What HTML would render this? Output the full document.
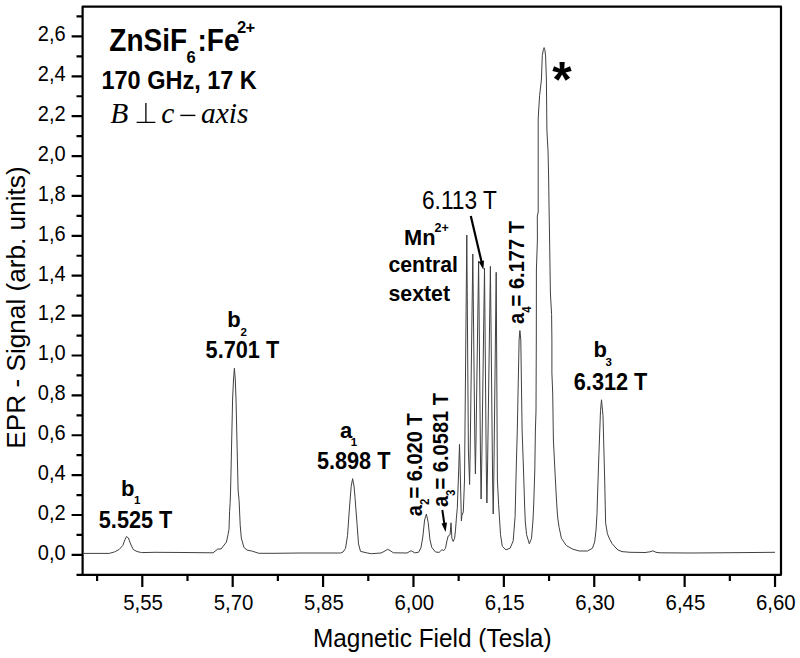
<!DOCTYPE html>
<html><head><meta charset="utf-8"><style>
html,body{margin:0;padding:0;background:#fff;}
svg{display:block;}
text{font-family:"Liberation Sans",sans-serif;fill:#000;}
.tk{font-size:20px;}
.ti{font-size:24.4px;}
.ty{font-size:26.2px;}
.b{font-weight:bold;}
.it{font-family:"Liberation Serif",serif;font-style:italic;}
.up{font-family:"Liberation Serif",serif;}
</style></head><body>
<svg width="800" height="658" viewBox="0 0 800 658">
<rect x="82.6" y="6.7" width="698.4" height="568.1" fill="none" stroke="#000" stroke-width="2.2" stroke-linejoin="round"/>
<path d="M71.6 554.90H82.6 M71.6 515.02H82.6 M71.6 475.13H82.6 M71.6 435.25H82.6 M71.6 395.36H82.6 M71.6 355.48H82.6 M71.6 315.60H82.6 M71.6 275.71H82.6 M71.6 235.83H82.6 M71.6 195.94H82.6 M71.6 156.06H82.6 M71.6 116.18H82.6 M71.6 76.29H82.6 M71.6 36.41H82.6 M76.5 574.84H82.6 M76.5 534.96H82.6 M76.5 495.07H82.6 M76.5 455.19H82.6 M76.5 415.31H82.6 M76.5 375.42H82.6 M76.5 335.54H82.6 M76.5 295.65H82.6 M76.5 255.77H82.6 M76.5 215.89H82.6 M76.5 176.00H82.6 M76.5 136.12H82.6 M76.5 96.23H82.6 M76.5 56.35H82.6 M76.5 16.47H82.6 M142.30 574.8V587 M232.69 574.8V587 M323.08 574.8V587 M413.47 574.8V587 M503.86 574.8V587 M594.25 574.8V587 M684.64 574.8V587 M775.03 574.8V587 M97.11 574.8V581 M187.50 574.8V581 M277.88 574.8V581 M368.27 574.8V581 M458.67 574.8V581 M549.06 574.8V581 M639.44 574.8V581 M729.84 574.8V581" stroke="#000" stroke-width="2.2" fill="none"/>
<text transform="translate(65.60,559.70) scale(1,1.07)" class="tk" text-anchor="end">0,0</text>
<text transform="translate(65.60,519.82) scale(1,1.07)" class="tk" text-anchor="end">0,2</text>
<text transform="translate(65.60,479.93) scale(1,1.07)" class="tk" text-anchor="end">0,4</text>
<text transform="translate(65.60,440.05) scale(1,1.07)" class="tk" text-anchor="end">0,6</text>
<text transform="translate(65.60,400.16) scale(1,1.07)" class="tk" text-anchor="end">0,8</text>
<text transform="translate(65.60,360.28) scale(1,1.07)" class="tk" text-anchor="end">1,0</text>
<text transform="translate(65.60,320.40) scale(1,1.07)" class="tk" text-anchor="end">1,2</text>
<text transform="translate(65.60,280.51) scale(1,1.07)" class="tk" text-anchor="end">1,4</text>
<text transform="translate(65.60,240.63) scale(1,1.07)" class="tk" text-anchor="end">1,6</text>
<text transform="translate(65.60,200.74) scale(1,1.07)" class="tk" text-anchor="end">1,8</text>
<text transform="translate(65.60,160.86) scale(1,1.07)" class="tk" text-anchor="end">2,0</text>
<text transform="translate(65.60,120.98) scale(1,1.07)" class="tk" text-anchor="end">2,2</text>
<text transform="translate(65.60,81.09) scale(1,1.07)" class="tk" text-anchor="end">2,4</text>
<text transform="translate(65.60,41.21) scale(1,1.07)" class="tk" text-anchor="end">2,6</text>
<text transform="translate(143.10,610.10) scale(1,1.05)" class="tk" text-anchor="middle" style="font-size:20.4px">5,55</text>
<text transform="translate(233.49,610.10) scale(1,1.05)" class="tk" text-anchor="middle" style="font-size:20.4px">5,70</text>
<text transform="translate(323.88,610.10) scale(1,1.05)" class="tk" text-anchor="middle" style="font-size:20.4px">5,85</text>
<text transform="translate(414.27,610.10) scale(1,1.05)" class="tk" text-anchor="middle" style="font-size:20.4px">6,00</text>
<text transform="translate(504.66,610.10) scale(1,1.05)" class="tk" text-anchor="middle" style="font-size:20.4px">6,15</text>
<text transform="translate(595.05,610.10) scale(1,1.05)" class="tk" text-anchor="middle" style="font-size:20.4px">6,30</text>
<text transform="translate(685.44,610.10) scale(1,1.05)" class="tk" text-anchor="middle" style="font-size:20.4px">6,45</text>
<text transform="translate(775.83,610.10) scale(1,1.05)" class="tk" text-anchor="middle" style="font-size:20.4px">6,60</text>
<text transform="translate(313.00,646.60) scale(1,1.05)" class="ti">Magnetic Field (Tesla)</text>
<text transform="translate(24.9,448.7) rotate(-90)" class="ty">EPR - Signal (arb. units)</text>
<path d="M83.5 553.4 L95.0 553.4 L109.3 553.4 L114.5 551.9 L119.0 549.6 L122.8 545.5 L125.0 539.5 L126.5 536.5 L128.4 538.0 L130.6 544.0 L133.3 549.6 L137.0 551.5 L141.5 552.6 L155.0 552.3 L185.0 552.5 L213.0 552.8 L217.9 549.0 L221.0 549.0 L226.4 542.1 L228.0 534.7 L229.0 529.4 L229.6 511.3 L230.1 503.8 L230.6 490.0 L232.6 399.0 L233.5 380.0 L234.4 368.2 L235.3 380.0 L236.0 399.0 L238.1 490.0 L239.1 500.6 L240.2 525.1 L241.3 537.9 L243.9 547.4 L247.1 550.1 L252.4 551.2 L258.8 553.3 L275.0 553.3 L300.0 553.0 L340.7 553.0 L343.0 552.0 L345.5 548.5 L347.5 535.7 L349.6 506.0 L351.2 486.4 L352.6 478.7 L354.0 486.0 L355.0 497.4 L357.1 524.7 L358.5 543.9 L360.5 551.4 L367.4 553.0 L371.5 553.7 L381.0 553.0 L384.0 551.5 L387.6 549.3 L390.0 550.5 L393.4 552.8 L407.0 553.0 L411.1 550.7 L414.6 552.8 L418.5 552.3 L420.9 548.0 L422.8 537.1 L424.6 520.0 L426.4 514.0 L428.2 522.5 L430.0 540.0 L431.8 547.4 L435.5 552.0 L439.1 552.4 L441.9 549.7 L443.7 550.6 L445.5 548.3 L446.9 541.0 L448.2 536.0 L450.1 534.6 L451.0 522.8 L451.9 538.3 L453.2 541.5 L454.6 538.3 L455.5 530.1 L456.4 518.2 L457.3 508.2 L458.7 470.0 L459.5 444.3 L460.2 470.0 L461.4 521.0 L461.9 515.5 L463.3 511.9 L464.5 480.0 L466.8 235.0 L468.4 450.0 L469.6 484.5 L470.2 450.0 L472.8 254.0 L474.8 440.0 L475.4 474.0 L476.0 440.0 L478.6 261.0 L480.5 460.0 L481.1 499.0 L481.8 460.0 L484.5 268.0 L486.3 470.0 L486.9 503.0 L487.5 470.0 L490.4 266.4 L492.6 480.0 L493.2 514.0 L493.8 480.0 L496.2 272.3 L497.4 480.0 L498.6 504.3 L500.5 534.7 L502.3 546.3 L506.0 549.9 L510.2 548.1 L513.2 540.8 L515.1 516.5 L516.2 470.0 L517.3 430.0 L519.1 340.0 L519.9 330.5 L520.8 340.0 L522.1 430.0 L523.5 470.0 L524.6 505.0 L525.3 522.0 L526.6 534.7 L529.3 543.8 L531.5 538.4 L533.0 520.0 L533.7 505.0 L534.8 470.0 L535.4 430.0 L536.0 411.0 L536.3 340.0 L536.4 270.0 L537.4 240.0 L537.3 216.0 L538.2 212.0 L538.2 140.0 L538.2 119.0 L538.7 110.0 L539.6 95.5 L541.4 80.0 L542.3 55.5 L543.4 49.5 L544.1 47.6 L544.8 49.5 L545.6 56.0 L546.4 80.0 L546.9 130.0 L547.4 140.0 L548.0 150.0 L548.6 176.0 L549.2 216.0 L549.6 240.0 L550.4 293.0 L551.6 314.5 L551.9 340.0 L551.9 373.0 L552.7 393.0 L553.4 440.0 L554.9 470.0 L556.2 495.0 L557.3 513.0 L558.0 520.0 L559.1 527.3 L561.4 538.3 L566.4 545.6 L572.8 549.2 L579.2 551.0 L587.4 551.0 L592.4 548.3 L594.7 541.9 L596.0 530.1 L597.0 513.7 L597.4 500.0 L598.9 454.5 L600.5 410.6 L601.5 399.8 L603.0 415.8 L604.7 480.0 L605.6 522.8 L607.4 533.7 L609.7 539.2 L612.0 543.5 L615.0 547.0 L618.0 550.0 L622.0 551.6 L630.0 552.3 L645.0 552.5 L650.0 551.8 L653.0 550.8 L656.0 552.3 L660.0 552.8 L690.0 553.0 L720.0 552.8 L775.0 552.3" stroke="#404040" stroke-width="1.0" fill="none" stroke-linejoin="round"/>
<path d="M470.8 216.1L481.6 262.0" stroke="#000" stroke-width="2.2"/><path d="M483.4 269.8L478.7 261.7L484.0 260.4Z" fill="#000"/>
<path d="M442.3 510.0L444.4 524.0" stroke="#000" stroke-width="2"/><path d="M445.6 531.9L441.5 523.4L447.0 522.6Z" fill="#000"/>
<text transform="translate(109.30,50.80) scale(1,1.1)" class="b" style="font-size:28px">ZnSiF</text>
<text transform="translate(186.50,63.00) scale(1,1.02)" class="b" style="font-size:16.5px">6</text>
<text transform="translate(197.50,50.80) scale(1,1.1)" class="b" style="font-size:28px">:Fe</text>
<text x="237" y="33" class="b" style="font-size:16.5px" letter-spacing="-0.7">2+</text>
<text transform="translate(101.50,88.80) scale(1,1.08)" class="b" style="font-size:23.5px">170 GHz, 17 K</text>
<text x="110.3" y="122.6" class="it" style="font-size:29.5px">B</text>
<path d="M145.9 103V122.3M136.6 122.3H155.4" stroke="#000" stroke-width="1.3" fill="none"/>
<text x="161.2" y="122.6" class="it" style="font-size:29.5px">c</text>
<path d="M180.3 115.4H195.4" stroke="#000" stroke-width="1.4" fill="none"/>
<text x="201" y="122.6" class="it" style="font-size:29.5px">axis</text>
<text transform="translate(121.00,495.60)" class="b" style="font-size:22px">b</text><text x="134" y="504.4" class="b" style="font-size:11.5px">1</text>
<text transform="translate(98.80,528.10) scale(1,1.08)" class="b" style="font-size:21.7px">5.525 T</text>
<text transform="translate(227.30,326.50)" class="b" style="font-size:22px">b</text><text x="240.6" y="335.6" class="b" style="font-size:11.5px">2</text>
<text transform="translate(205.60,357.80) scale(1,1.08)" class="b" style="font-size:21.7px">5.701 T</text>
<text transform="translate(340.00,437.50)" class="b" style="font-size:22px">a</text><text x="350.8" y="446" class="b" style="font-size:11.5px">1</text>
<text transform="translate(316.90,469.40) scale(1,1.08)" class="b" style="font-size:21.7px">5.898 T</text>
<text transform="translate(593.60,356.90)" class="b" style="font-size:22px">b</text><text x="605.6" y="366.2" class="b" style="font-size:11.5px">3</text>
<text transform="translate(573.80,389.80) scale(1,1.08)" class="b" style="font-size:21.7px">6.312 T</text>
<text transform="translate(422.00,208.60) scale(1,1.1)" class="tk" style="font-size:22.7px">6.113 T</text>
<text x="404" y="245.4" class="b" style="font-size:21.8px">Mn</text><text x="434.5" y="231.7" class="b" style="font-size:12.5px">2+</text>
<text x="388.5" y="272.4" class="b" style="font-size:21.2px">central</text>
<text x="388.5" y="300.9" class="b" style="font-size:21.3px">sextet</text>
<text transform="translate(422.3,516.2) rotate(-90) scale(1,1.08)" class="b" style="font-size:20.1px">a<tspan dy="6.5" style="font-size:11.5px">2</tspan><tspan dy="-6.5">= 6.020 T</tspan></text>
<text transform="translate(447.9,507.1) rotate(-90) scale(1,1.08)" class="b" style="font-size:20.1px">a<tspan dy="6.5" style="font-size:11.5px">3</tspan><tspan dy="-6.5">= 6.0581 T</tspan></text>
<text transform="translate(523.7,324) rotate(-90) scale(1,1.08)" class="b" style="font-size:20.1px">a<tspan dy="6.5" style="font-size:11.5px">4</tspan><tspan dy="-6.5">= 6.177 T</tspan></text>
<text x="552.2" y="97.2" class="b" style="font-size:50px">*</text>
</svg>
</body></html>
